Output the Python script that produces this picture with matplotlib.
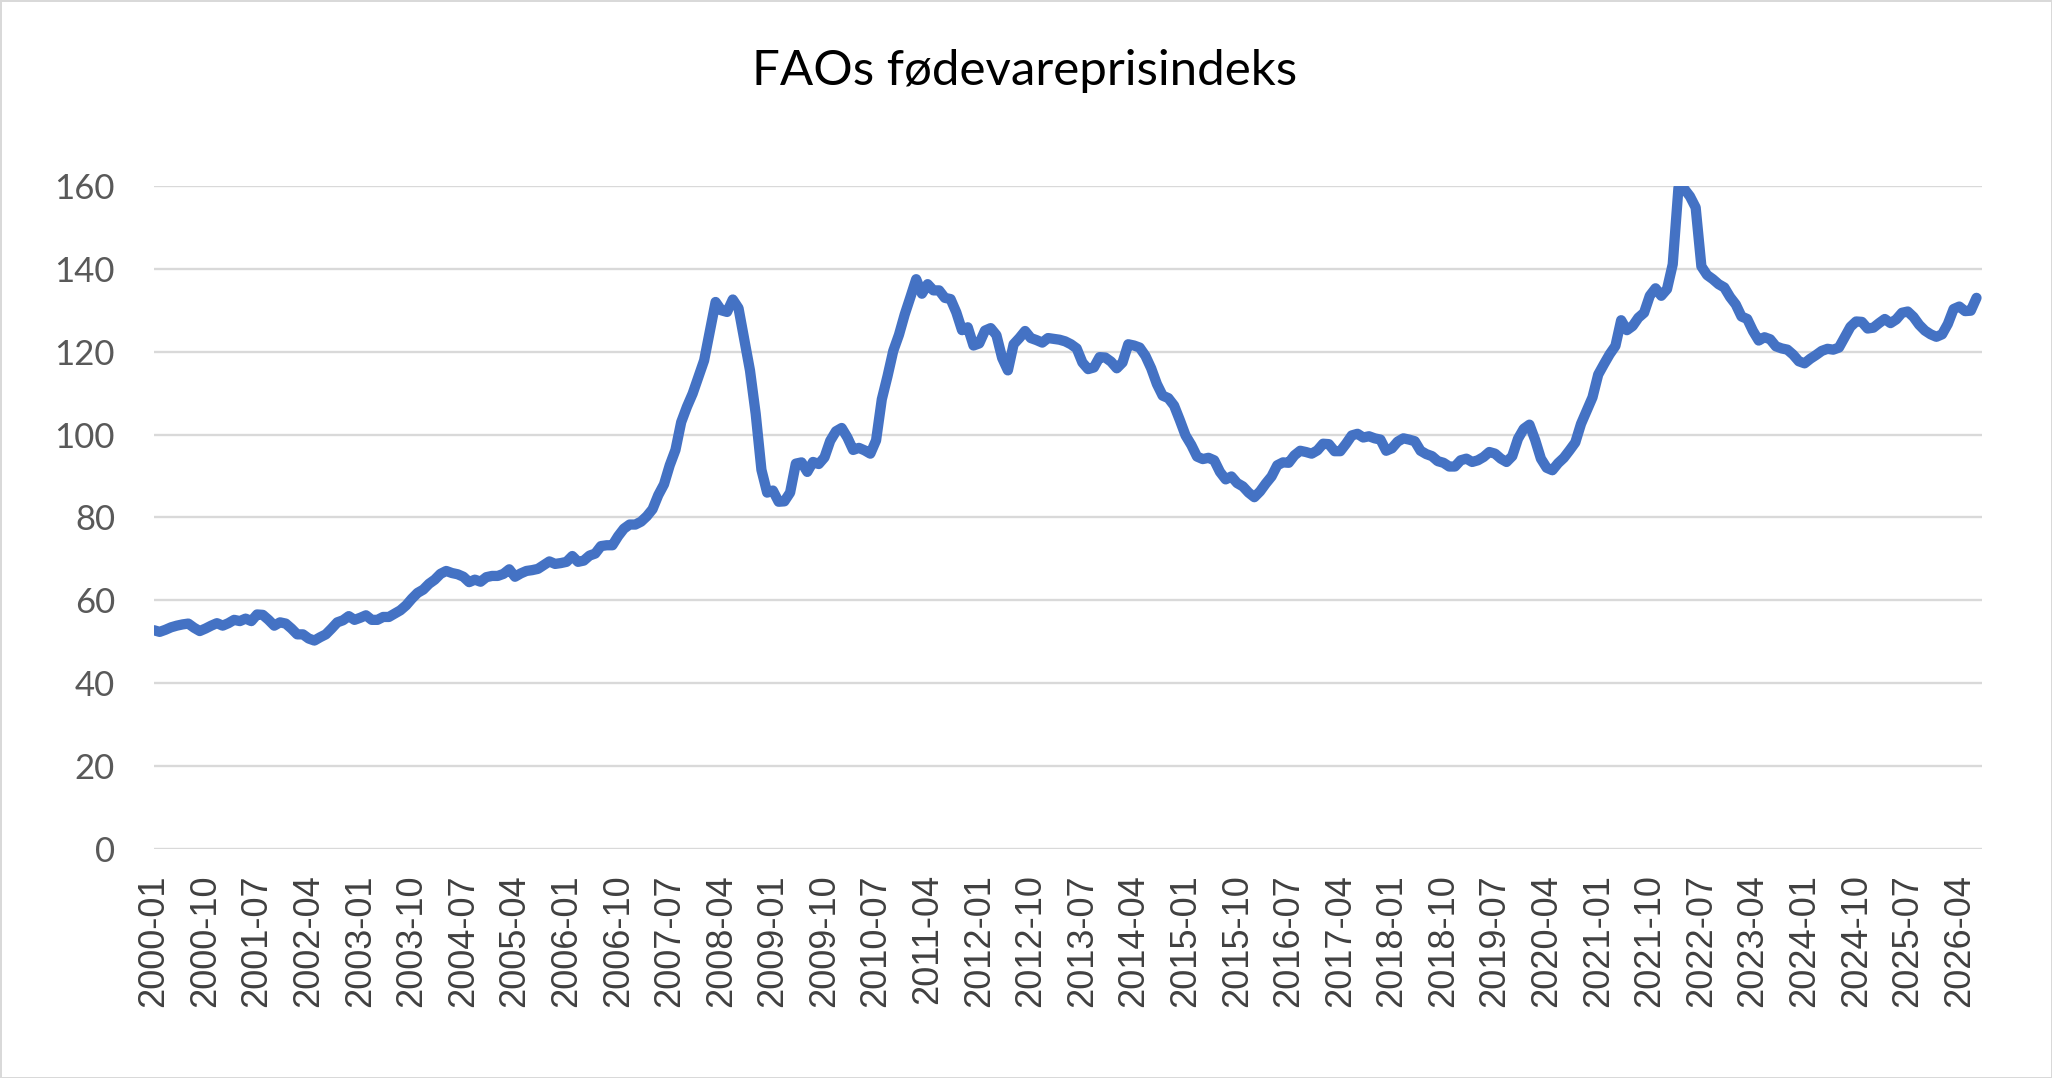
import numpy as np
import pandas as pd
import matplotlib
matplotlib.use('Agg')
import matplotlib.pyplot as plt

# FAO food price index, monthly
values_2000s = [
    52.8, 52.4, 52.9, 53.5, 53.9, 54.2, 54.4, 53.4, 52.6, 53.2, 53.9, 54.5,
    53.9, 54.5, 55.3, 55.0, 55.6, 55.0, 56.6, 56.5, 55.3, 53.9, 54.7, 54.4,
    53.2, 51.8, 51.8, 50.8, 50.3, 51.1, 51.8, 53.2, 54.7, 55.2, 56.2, 55.3,
    55.8, 56.4, 55.3, 55.3, 56.0, 56.0, 56.8, 57.6, 58.8, 60.4, 61.8, 62.6,
    64.0, 65.0, 66.4, 67.1, 66.6, 66.3, 65.7, 64.4, 65.0, 64.5, 65.6, 65.9,
    65.9, 66.4, 67.5, 65.7, 66.5, 67.1, 67.3, 67.6, 68.5, 69.4, 68.8, 69.0,
    69.3, 70.7, 69.3, 69.6, 70.8, 71.3, 73.1, 73.3, 73.3, 75.5, 77.3, 78.3,
    78.3, 79.0, 80.3, 82.0, 85.4, 88.0, 92.6, 96.3, 103.0, 106.7, 109.9, 113.9,
    117.9, 125.0, 132.0, 130.0, 129.6, 132.6, 130.5, 123.0, 115.5, 105.0, 91.5, 86.0,
    86.5, 83.8, 83.9, 86.0, 93.0, 93.3, 91.0, 93.4, 92.9, 94.5, 98.5, 100.8,
]
values_2010s = [
    101.6, 99.3, 96.3, 96.8, 96.2, 95.4, 98.6, 108.5, 114.1, 120.2, 124.1, 129.0,
    133.2, 137.5, 134.0, 136.3, 134.8, 134.8, 133.0, 132.7, 129.5, 125.2, 125.9, 121.5,
    122.0, 125.1, 125.7, 124.0, 118.5, 115.5, 121.8, 123.3, 125.0, 123.3, 122.8, 122.2,
    123.3, 123.1, 122.9, 122.5, 121.8, 120.8, 117.4, 115.8, 116.2, 118.7, 118.6, 117.6,
    116.0, 117.4, 121.8, 121.5, 121.0, 119.0, 116.0, 112.2, 109.4, 108.8, 107.0, 103.5,
    99.8, 97.5, 94.7, 94.1, 94.4, 93.8, 91.0, 89.2, 89.9, 88.3, 87.5, 86.0,
    84.9, 86.3, 88.2, 89.9, 92.6, 93.3, 93.2, 95.0, 96.1, 95.8, 95.4, 96.2,
    97.8, 97.7, 96.0, 96.0, 97.8, 99.8, 100.2, 99.3, 99.6, 99.1, 98.8, 96.1,
    96.7, 98.3, 99.1, 98.8, 98.4, 96.1, 95.3, 94.8, 93.6, 93.2, 92.3, 92.3,
    93.8, 94.2, 93.4, 93.8, 94.6, 95.8, 95.4, 94.2, 93.4, 94.8, 99.0, 101.4,
]
values_2020s = [
    102.4, 98.7, 94.2, 92.0, 91.4, 93.1, 94.4, 96.2, 98.1, 102.6, 105.8, 109.0,
    114.5, 117.0, 119.4, 121.4, 127.6, 125.2, 126.2, 128.2, 129.4, 133.5, 135.3, 133.5,
    135.1, 141.1, 159.6, 159.3, 157.5, 154.8, 140.6, 138.5, 137.5, 136.3, 135.5, 133.2,
    131.4, 128.5, 127.9, 125.0, 122.7, 123.5, 123.0, 121.3, 120.8, 120.5, 119.3, 117.7,
    117.2, 118.3, 119.2, 120.2, 120.7, 120.5, 121.0, 123.5, 126.0, 127.3, 127.2, 125.6,
    125.8, 126.9, 127.9, 126.9, 127.8, 129.4, 129.7, 128.4, 126.5, 125.1, 124.2, 123.6,
    124.2, 126.7, 130.3, 130.9, 129.8, 129.9, 133.0,
]

values = values_2000s + values_2010s + values_2020s
months = pd.period_range('2000-01', periods=len(values), freq='M').strftime('%Y-%m')
title = 'FAOs fødevareprisindeks'
y_ticks = [0, 20, 40, 60, 80, 100, 120, 140, 160]

fig = plt.figure(figsize=(20.52, 10.78), dpi=100)
fig.patch.set_edgecolor('#d9d9d9')
fig.patch.set_linewidth(2)
ax = fig.add_axes([0.075, 0.2124, 0.891, 0.6151])

x = np.arange(len(values))
ax.plot(x, values, color='#4472C4', linewidth=7.4, solid_capstyle='round',
        solid_joinstyle='round', zorder=3)

ax.set_ylim(0, 160)
ax.set_xlim(0, len(values))
ax.set_yticks(y_ticks)
ax.set_yticklabels([str(v) for v in y_ticks], fontfamily='Lato', fontsize=25,
                   color='#595959')
ax.set_xticks(x[::9])
ax.set_xticklabels(months[::9], rotation=90, fontfamily='Liberation Sans',
                   fontsize=26, color='#404040')
ax.tick_params(axis='y', length=0, pad=28)
ax.tick_params(axis='x', length=0, pad=18)
ax.grid(axis='y', color='#d9d9d9', linewidth=1.7, zorder=0)
ax.grid(axis='x', visible=False)
for s in ax.spines.values():
    s.set_visible(False)

fig.text(0.4995, 0.921, title, ha='center', va='baseline', fontfamily='Lato',
         fontsize=35.5, color='black')

fig.savefig('out.png', dpi=100)
